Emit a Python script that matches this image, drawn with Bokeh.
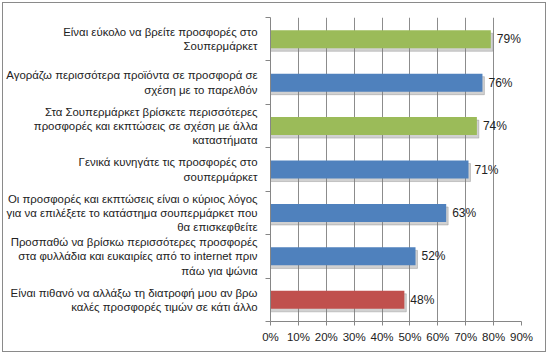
from bokeh.plotting import figure
from bokeh.models import FixedTicker, ColumnDataSource, LabelSet
from bokeh.core.properties import value
from bokeh.embed import file_html
from bokeh.resources import INLINE

labels = [
    "Είναι εύκολο να βρείτε προσφορές στο\nΣουπερμάρκετ",
    "Αγοράζω περισσότερα προϊόντα σε προσφορά σε\nσχέση με το παρελθόν",
    "Στα Σουπερμάρκετ βρίσκετε περισσότερες\nπροσφορές και εκπτώσεις σε σχέση με άλλα\nκαταστήματα",
    "Γενικά κυνηγάτε τις προσφορές στο\nσουπερμάρκετ",
    "Οι προσφορές και εκπτώσεις είναι ο κύριος λόγος\nγια να επιλέξετε το κατάστημα σουπερμάρκετ που\nθα επισκεφθείτε",
    "Προσπαθώ να βρίσκω περισσότερες προσφορές\nστα φυλλάδια και ευκαιρίες από το internet πριν\nπάω για ψώνια",
    "Είναι πιθανό να αλλάξω τη διατροφή μου αν βρω\nκαλές προσφορές τιμών σε κάτι άλλο",
]
values = [79, 76, 74, 71, 63, 52, 48]
colors = ["#9BBB59", "#4F81BD", "#9BBB59", "#4F81BD", "#4F81BD", "#4F81BD", "#C0504D"]
x_ticks = [0, 10, 20, 30, 40, 50, 60, 70, 80, 90]

n = len(labels)
ypos = [n - i - 0.5 for i in range(n)]
src = ColumnDataSource(dict(
    y=ypos, v=values, c=colors,
    txt=[f"{v}%" for v in values],
    sy=[y - 0.07 for y in ypos],
    sv=[v + 0.7 for v in values],
))

p = figure(width=544, height=350, x_range=(0, 90), y_range=(0, n),
           output_backend="svg", toolbar_location=None,
           min_border_left=266, min_border_right=26, min_border_top=14, min_border_bottom=32)
p.styles = {"margin": "2px", "border": "1px solid #8a8a8a"}
p.outline_line_color = None
p.background_fill_color = "white"
p.border_fill_color = "white"

# shadow
p.hbar(y="sy", right="sv", left=0, height=0.415, source=src, color="#7a7a7a", alpha=0.35)
p.hbar(y="y", right="v", left=0, height=0.415, source=src, fill_color="c", line_color=None)

ls = LabelSet(x="v", y="y", text="txt", source=src, x_offset=6, y_offset=0,
              text_baseline="middle", text_font=value("Liberation Sans"), text_font_size="12px",
              text_color="#222222")
p.add_layout(ls)

# x axis
p.xaxis.ticker = FixedTicker(ticks=x_ticks)
p.xaxis.major_label_overrides = {t: f"{t}%" for t in x_ticks}
p.xaxis.major_label_text_font = "Liberation Sans"
p.xaxis.major_label_text_font_size = "11.5px"
p.xaxis.major_label_text_color = "#222222"
p.xaxis.axis_line_color = "#868686"
p.xaxis.major_tick_line_color = "#868686"
p.xaxis.major_tick_in = 0
p.xaxis.major_tick_out = 4
p.xaxis.minor_tick_line_color = None
p.xaxis.major_label_standoff = 5

# y axis
p.yaxis.ticker = FixedTicker(ticks=ypos, minor_ticks=list(range(n + 1)))
p.yaxis.major_label_overrides = {y: l for y, l in zip(ypos, labels)}
p.yaxis.major_label_text_font = "Liberation Sans"
p.yaxis.major_label_text_font_size = "11.4px"
p.yaxis.major_label_text_color = "#222222"
p.yaxis.major_tick_line_color = None
p.yaxis.minor_tick_line_color = "#868686"
p.yaxis.minor_tick_in = 0
p.yaxis.minor_tick_out = 5
p.yaxis.axis_line_color = "#868686"
p.yaxis.major_label_standoff = 7

p.xgrid.ticker = FixedTicker(ticks=x_ticks)
p.xgrid.grid_line_color = "#8c8c8c"
p.ygrid.grid_line_color = None

open("out.html", "w").write(file_html(p, INLINE))
